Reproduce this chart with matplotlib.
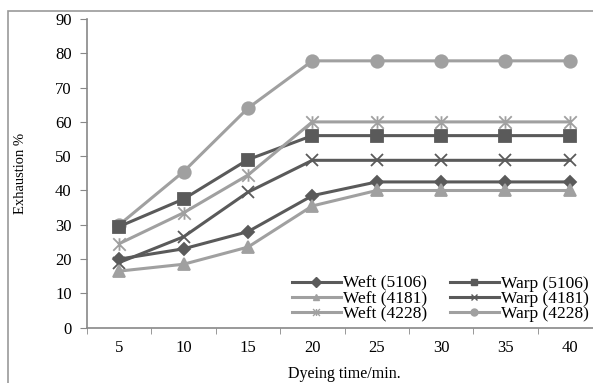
import matplotlib
matplotlib.use("Agg")
import matplotlib.pyplot as plt
from matplotlib.path import Path
from matplotlib.patches import Rectangle

times = ["5", "10", "15", "20", "25", "30", "35", "40"]
weft_5106 = [20, 23, 28, 38.5, 42.5, 42.5, 42.5, 42.5]
warp_5106 = [29.5, 37.5, 49, 56, 56, 56, 56, 56]
weft_4181 = [16.5, 18.5, 23.5, 35.5, 40, 40, 40, 40]
warp_4181 = [19, 26.5, 39.5, 48.8, 48.8, 48.8, 48.8, 48.8]
weft_4228 = [24.5, 33.5, 44.5, 60, 60, 60, 60, 60]
warp_4228 = [30, 45.5, 64, 77.8, 77.8, 77.8, 77.8, 77.8]

plt.rcParams['font.family'] = ['Liberation Serif', 'DejaVu Serif']

dark = '#5a5a5a'
light = '#a0a0a0'

star = Path([(-1, -1), (1, 1), (-1, 1), (1, -1), (0, -1), (0, 1)],
            [Path.MOVETO, Path.LINETO, Path.MOVETO, Path.LINETO, Path.MOVETO, Path.LINETO])

fig = plt.figure(figsize=(5.93, 3.83), dpi=100)
ax = fig.add_axes([87/593, 1-327.7/383, (602-87)/593, (327.7-19)/383])

x = list(range(len(times)))
series = [
    ("Weft (5106)", weft_5106, dark, 'D', 6),
    ("Weft (4181)", weft_4181, light, '^', 8),
    ("Weft (4228)", weft_4228, light, star, 9),
    ("Warp (5106)", warp_5106, dark, 's', 9),
    ("Warp (4181)", warp_4181, dark, 'x', 9),
    ("Warp (4228)", warp_4228, light, 'o', 9),
]
draw_order = [5, 3, 2, 4, 0, 1]
lines = {}
for i in draw_order:
    lab, vals, col, mk, ms = series[i]
    ln, = ax.plot(x, vals, color=col, lw=2.2, marker=mk, markersize=ms,
                  markeredgecolor=col, markerfacecolor=col, markeredgewidth=1.3, label=lab)
    lines[i] = ln

ax.set_xlim(-0.5, len(times) - 0.5)
ax.set_ylim(0, 90)
ax.set_yticks(range(0, 91, 10))
ax.set_xticks(x)
ax.set_xticklabels(times)
ax.set_xticks([i + 0.5 for i in range(-1, len(times))], minor=True)
ax.tick_params(axis='x', which='major', length=0, pad=9, labelsize=12)
ax.tick_params(axis='x', which='minor', length=4, color='#888888', direction='out')
ax.tick_params(axis='y', length=5, color='#888888', labelsize=12, pad=6)
for s in ['top', 'right']:
    ax.spines[s].set_visible(False)
for s in ['left', 'bottom']:
    ax.spines[s].set_color('#888888')
    ax.spines[s].set_linewidth(1.2)

ax.set_ylabel("Exhaustion %", fontsize=10.5, labelpad=20)
ax.set_xlabel("Dyeing time/min.", fontsize=11.5, labelpad=7)

handles = [lines[i] for i in range(6)]
labels = [series[i][0] for i in range(6)]
leg = ax.legend(handles, labels, ncol=2, loc='lower right',
                bbox_to_anchor=((596 - 87) / (602 - 87), -0.005),
                frameon=False, fontsize=12.5, handlelength=2.8, handletextpad=0.15,
                columnspacing=1.3, labelspacing=-0.05, borderaxespad=0.0)
for h in leg.legend_handles:
    h.set_markersize(5)
    h.set_markeredgewidth(1)

fig.patches.append(Rectangle((8/593, -0.1), 1.2, 1 - 11/383 + 0.1, transform=fig.transFigure,
                             fill=False, edgecolor='#999999', lw=1.2))

fig.savefig("out.png", dpi=100)
